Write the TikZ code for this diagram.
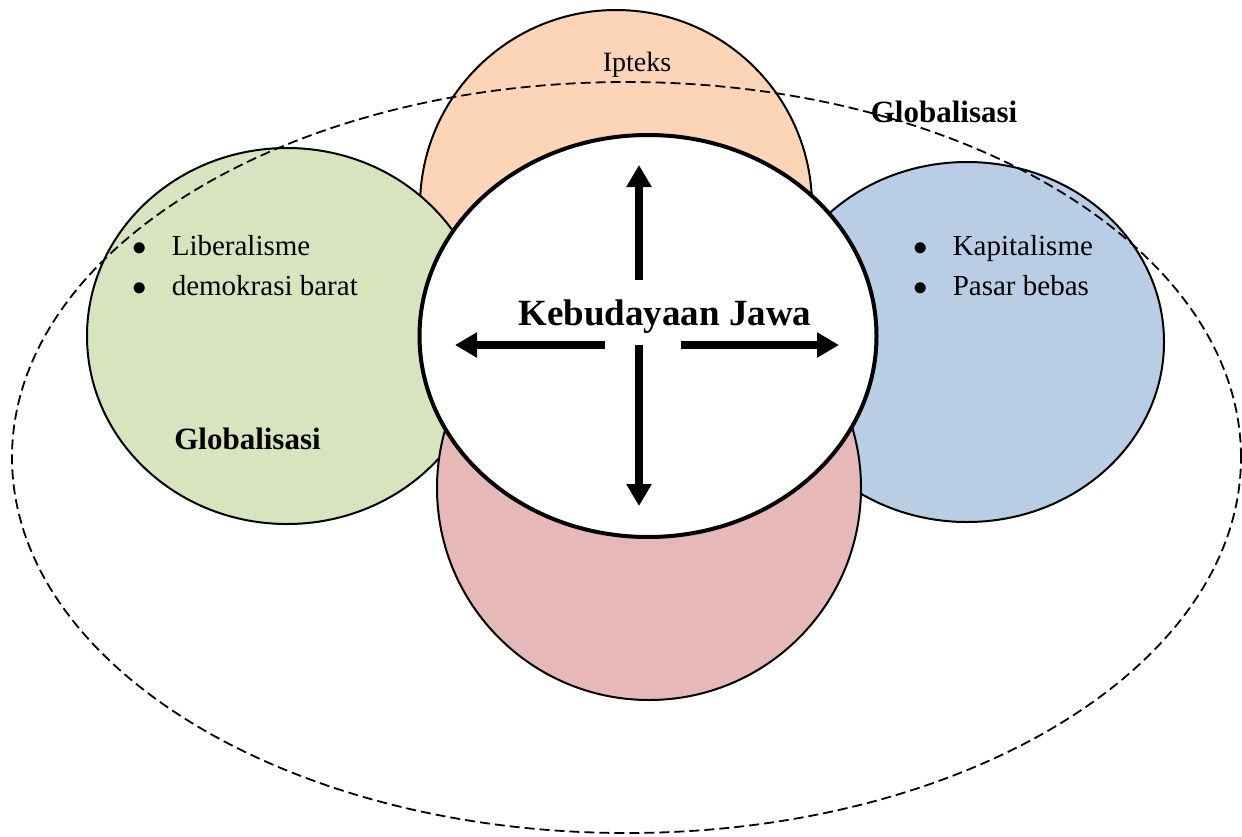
\documentclass[tikz,border=0pt]{standalone}
\usepackage{fontspec}
\setmainfont{Liberation Serif}
\usetikzlibrary{shapes.geometric,arrows.meta}
\definecolor{ipteksfill}{HTML}{FBD5B5}
\definecolor{liberalfill}{HTML}{D7E4BD}
\definecolor{kapitalfill}{HTML}{B9CDE5}
\definecolor{bawahfill}{HTML}{E6B9B8}
\newcommand{\butir}{$\bullet$\hspace{12.5pt}}
\begin{document}
\begin{tikzpicture}[x=0.5pt,y=-0.5pt,
  lingkar/.style={draw,ellipse,line width=1pt,inner sep=0pt},
  panah/.style={line width=4pt,-{Triangle[length=11pt,width=12pt]}},
  teks/.style={font=\fontsize{14.5}{20}\selectfont},
  judul/.style={font=\fontsize{15.5}{18}\selectfont\bfseries}]
\useasboundingbox (0,0) rectangle (1242,836);
\node[lingkar,fill=ipteksfill,minimum width=196pt,minimum height=196pt](ipteks) at (616,206){};
\node[lingkar,fill=liberalfill,minimum width=200pt,minimum height=188pt](liberal) at (287,336){};
\node[lingkar,fill=kapitalfill,minimum width=197pt,minimum height=180pt](kapital) at (967,342){};
\node[lingkar,fill=bawahfill,minimum width=212pt,minimum height=212pt](bawah) at (649,488){};
\node[lingkar,fill=white,line width=2pt,minimum width=228.5pt,minimum height=201pt](jawa) at (648,336){};
\node[anchor=base,font=\fontsize{14}{20}\selectfont](ipteksteks) at (637,71){Ipteks};
\node[anchor=base,font=\fontsize{18.5}{22}\selectfont\bfseries](jawateks) at (665,325){Kebudayaan Jawa};
\node[teks,anchor=base west,align=left,inner sep=0pt](liberalteks) at (132,295){\butir Liberalisme\\\butir demokrasi barat};
\node[teks,anchor=base west,align=left,inner sep=0pt](kapitalteks) at (913,295){\butir Kapitalisme\\\butir Pasar bebas};
\node[judul,anchor=base](globalkiri) at (247.5,449){Globalisasi};
\node[judul,anchor=base](globalkanan) at (944,122){Globalisasi};
\coordinate (atas0) at (639,280);
\coordinate (atas) at (639,165);
\coordinate (bawah0) at (639,345);
\coordinate (bawahujung) at (639,506);
\coordinate (kiri0) at (605,345);
\coordinate (kiri) at (455,345);
\coordinate (kanan0) at (681,345);
\coordinate (kanan) at (839,345);
\draw[panah] (atas0) -- (atas);
\draw[panah] (bawah0) -- (bawahujung);
\draw[panah] (kiri0) -- (kiri);
\draw[panah] (kanan0) -- (kanan);
\node[draw,ellipse,line width=0.9pt,dash pattern=on 5pt off 2.5pt,inner sep=0pt,minimum width=614.5pt,minimum height=375.5pt](global) at (626.5,457.5){};
\end{tikzpicture}
\end{document}
